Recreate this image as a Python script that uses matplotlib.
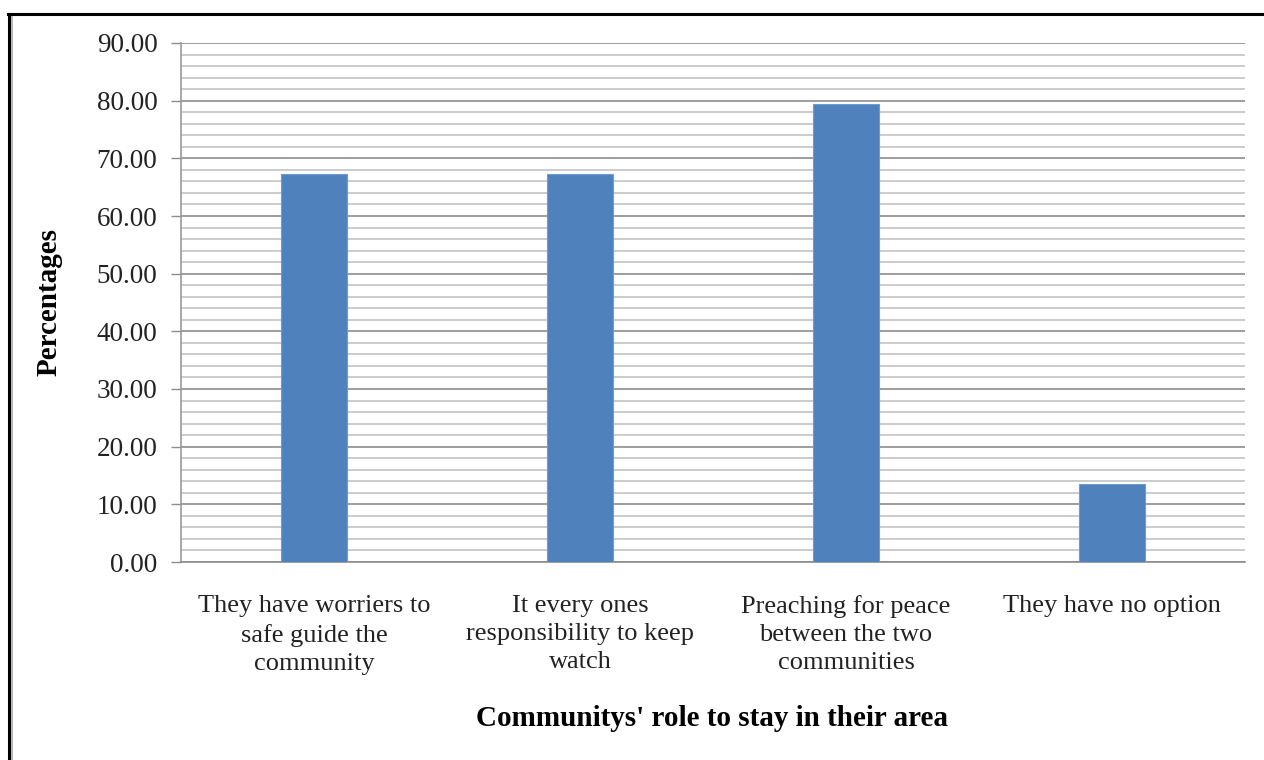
import matplotlib.pyplot as plt
import numpy as np
from matplotlib.lines import Line2D
from matplotlib.ticker import MultipleLocator

categories = [
    "They have worriers to\nsafe guide the\ncommunity",
    "It every ones\nresponsibility to keep\nwatch",
    "Preaching for peace\nbetween the two\ncommunities",
    "They have no option",
]
percentages = [67.31, 67.31, 79.49, 13.46]

plt.rcParams['font.family'] = ['Liberation Serif', 'DejaVu Serif']

fig = plt.figure(figsize=(12.64, 7.6), dpi=100)
ax = fig.add_axes([181 / 1264, 1 - 562 / 760, (1245 - 181) / 1264, (562 - 43) / 760])

x = np.arange(len(categories))
ax.bar(x, percentages, width=0.25, color='#4f81bd', edgecolor='#6f9bd0', linewidth=0.8, zorder=3)

ax.set_xlim(-0.5, len(categories) - 0.5)
ax.set_ylim(0, 90)
ax.yaxis.set_major_locator(MultipleLocator(10))
ax.yaxis.set_minor_locator(MultipleLocator(2))
ax.yaxis.set_major_formatter(lambda v, p: f"{v:.2f}")

ax.grid(axis='y', which='major', color='#8c8c8c', linewidth=1.2, zorder=0)
ax.grid(axis='y', which='minor', color='#c4c4c4', linewidth=1.2, zorder=0)

for side in ['top', 'right']:
    ax.spines[side].set_visible(False)
ax.spines['left'].set_color('#999999')
ax.spines['left'].set_linewidth(1.2)
ax.spines['bottom'].set_color('#8c8c8c')
ax.spines['bottom'].set_linewidth(1.2)

ax.tick_params(axis='y', which='major', length=7, width=1, color='#8c8c8c',
               labelsize=19.5, pad=10, labelcolor='#222222')
ax.tick_params(axis='y', which='minor', length=0)
ax.tick_params(axis='x', length=0, pad=24)
ax.set_xticks(x)
ax.set_xticklabels(categories, fontsize=19, color='#222222', linespacing=1.35, va='top')

ax.set_ylabel("Percentages", fontsize=21, fontweight='bold')
ax.yaxis.set_label_coords((63 - 181) / (1245 - 181), 0.5)
fig.text(712 / 1264, 1 - 718 / 760, "Communitys' role to stay in their area",
         ha='center', va='center', fontsize=21, fontweight='bold')

# outer frame: black top and left edges with a thin grey inner line
fig.add_artist(Line2D([9 / 1264, 9 / 1264], [0, 1 - 14 / 760], color='black', linewidth=2.2, transform=fig.transFigure))
fig.add_artist(Line2D([12 / 1264, 12 / 1264], [0, 1 - 16 / 760], color='#aaaaaa', linewidth=1.2, transform=fig.transFigure))
fig.add_artist(Line2D([8 / 1264, 1], [1 - 14 / 760, 1 - 14 / 760], color='black', linewidth=2.2, transform=fig.transFigure))

fig.savefig("out.png", dpi=100)
